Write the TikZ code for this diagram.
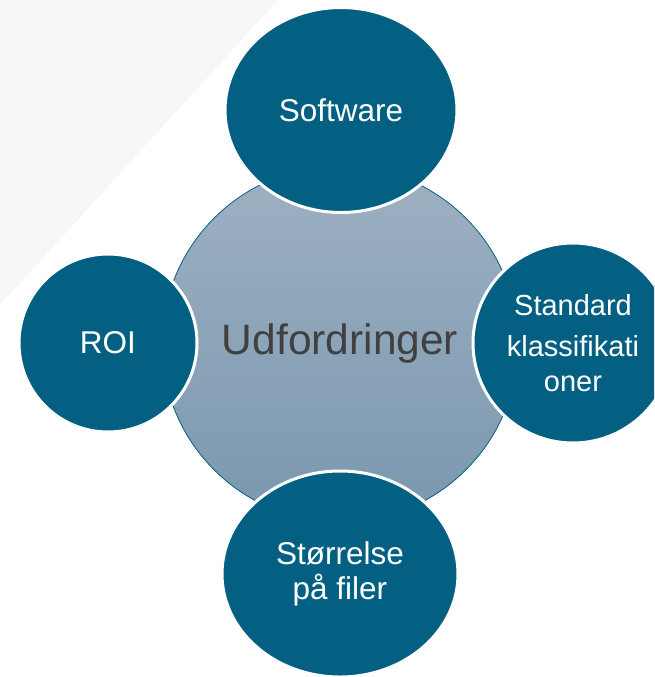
\documentclass[tikz,border=0pt]{standalone}
\usepackage{fontspec}
\setmainfont{Liberation Sans}
\usetikzlibrary{shapes.geometric}
\definecolor{petrol}{RGB}{4,96,130}
\definecolor{hubtop}{RGB}{158,177,194}
\definecolor{hubbot}{RGB}{122,151,175}
\definecolor{hubtext}{RGB}{64,64,64}
\definecolor{backdrop}{RGB}{247,247,248}

\begin{document}
\begin{tikzpicture}[x=1pt, y=-1pt,
  outer/.style={ellipse, fill=petrol, draw=white, line width=3pt, text=white,
    inner sep=0pt, align=center, font=\fontsize{31.5}{32}\selectfont},
  hub/.style={circle, minimum size=356pt, top color=hubtop, bottom color=hubbot,
    draw=petrol, line width=0.8pt, text=hubtext, font=\fontsize{42.5}{44}\selectfont}]
  \useasboundingbox (0,0) rectangle (654,677);
  \clip (0,0) rectangle (654,677);
  % faint backdrop corner
  \fill[backdrop] (0,0) -- (278,0) -- (0,305) -- cycle;

  \node[hub] (hub) at (340,344) {Udfordringer};

  \node[outer, minimum width=232pt, minimum height=205pt] (software) at (341,110) {Software};
  \node[outer, minimum width=178pt, minimum height=178pt] (roi) at (108,343) {ROI};
  \node[outer, minimum width=200pt, minimum height=200pt, font=\fontsize{29}{35}\selectfont]
    (standard) at (573,343) {Standard\\[6pt]klassifikati\\oner};
  \node[outer, minimum width=236pt, minimum height=206pt, font=\fontsize{31.5}{35}\selectfont]
    (stoerrelse) at (340,574) {Størrelse\\på filer};
\end{tikzpicture}
\end{document}
